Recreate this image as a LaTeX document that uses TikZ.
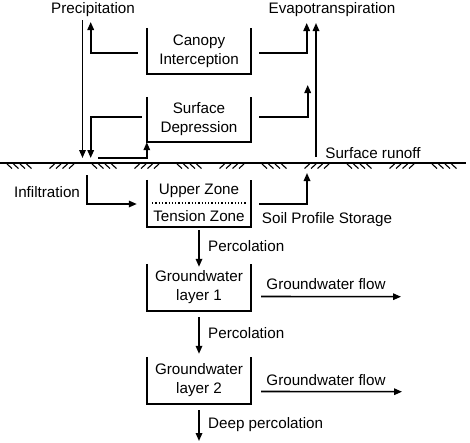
\documentclass[tikz,border=0pt]{standalone}
\usepackage{fontspec}
\setmainfont{Liberation Sans}
\usetikzlibrary{positioning,arrows.meta}

\tikzset{
  flow/.style={line width=1.6pt,-{Triangle[length=8pt,width=6.5pt]}},
  store/.style={minimum width=104pt,align=center,inner sep=0pt},
  lbl/.style={inner sep=0pt},
}

\begin{document}
\begin{tikzpicture}[x=1pt,y=-1pt,font=\fontsize{15.2}{19}\selectfont]
  \useasboundingbox (0,0) rectangle (470,442);

  % labels
  \node[lbl] (precip) at (93,10) {Precipitation};
  \node[lbl] (evap) at (332,10) {Evapotranspiration};
  \node[lbl] (runoff) at (373,153) {Surface runoff};
  \node[lbl] (infil) at (47,192) {Infiltration};
  \node[lbl] (soil) at (327,220) {Soil Profile Storage};
  \node[lbl,anchor=west] (perc1) at (208,246) {Percolation};
  \node[lbl,anchor=west] (perc2) at (208,333) {Percolation};
  \node[lbl,anchor=west] (deep) at (208,425) {Deep percolation};
  \node[lbl] (gwflowa) at (326,284) {Groundwater flow};
  \node[lbl] (gwflowb) at (326,380) {Groundwater flow};

  % storages (open at the top)
  \node[store,minimum height=46pt] (canopy) at (199,51) {Canopy\\Interception};
  \node[store,minimum height=45pt] (depress) at (199,119.5) {Surface\\Depression};
  \node[store,minimum height=47pt] (soilbox) at (199,203.5) {};
  \node[lbl] (upper) at (199,191) {Upper Zone};
  \node[lbl] (tension) at (199,216) {Tension Zone};
  \node[store,minimum height=47pt] (gwa) at (199,287.5) {Groundwater\\layer 1};
  \node[store,minimum height=47pt] (gwb) at (199,380.5) {Groundwater\\layer 2};
  \foreach \b in {canopy,depress,soilbox,gwa,gwb}
    \draw[line width=1.6pt] (\b.north west) |- (\b.south east) -- (\b.north east);
  \draw[line width=1.3pt,dotted] (152,203) -- (247,203);

  % ground surface
  \draw[line width=1.6pt] (0,163) -- (466,163);
  \foreach \i in {0,...,10} {
    \pgfmathsetmacro\gx{7+42.5*\i}
    \foreach \k in {0,...,3} {
      \ifodd\i
        \draw[line width=1.1pt] (\gx+\k*6.5+5,164) -- (\gx+\k*6.5,168.5);
      \else
        \draw[line width=1.1pt] (\gx+\k*6.5,164) -- (\gx+\k*6.5+5,168.5);
      \fi
    }
  }

  % free ends of the connectors
  \coordinate (pdown) at (82.5,20);
  \coordinate (pgnd) at (82.5,158);
  \coordinate (pup) at (90.7,22);
  \coordinate (dgnd) at (90.7,158);
  \coordinate (eupa) at (306.7,23);
  \coordinate (eupb) at (307.7,85);
  \coordinate (sgnd) at (98,158);
  \coordinate (rbot) at (316,157);
  \coordinate (rtop) at (316,23);
  \coordinate (itop) at (87,175);
  \coordinate (sup) at (307,173);
  \coordinate (gwenda) at (401,296.7);
  \coordinate (gwendb) at (402,391.7);
  \coordinate (bottom) at (199,441);

  % connectors
  \draw[flow] (pdown) -- (pgnd);
  \draw[flow] ([xshift=-9pt,yshift=-2pt]canopy.west) -| (pup);
  \draw[flow] ([xshift=8pt,yshift=-2pt]canopy.east) -| (eupa);
  \draw[flow] ([xshift=-5pt,yshift=2.5pt]depress.west) -| (dgnd);
  \draw[flow] ([xshift=8pt,yshift=2.5pt]depress.east) -| (eupb);
  \draw[flow] (sgnd) -| (depress.south west);
  \draw[flow] (rbot) -- (rtop);
  \draw[flow] (itop) |- ([xshift=-10pt,yshift=-0.5pt]soilbox.west);
  \draw[flow] ([xshift=8pt,yshift=-0.5pt]soilbox.east) -| (sup);
  \draw[flow] ([yshift=-3pt]soilbox.south) -- ([yshift=-3pt]gwa.north);
  \draw[flow] ([xshift=10pt,yshift=-9pt]gwa.east) -- (gwenda);
  \draw[flow] ([yshift=-6pt]gwa.south) -- ([yshift=3pt]gwb.north);
  \draw[flow] ([xshift=10pt,yshift=-11pt]gwb.east) -- (gwendb);
  \draw[flow] ([yshift=-6pt]gwb.south) -- (bottom);
\end{tikzpicture}
\end{document}
